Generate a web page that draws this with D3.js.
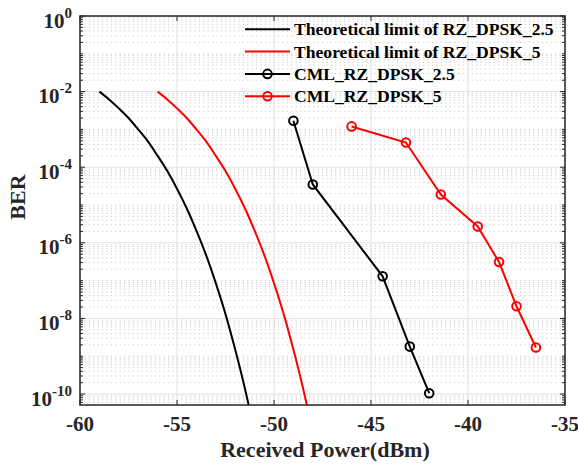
<!DOCTYPE html>
<html>
<head>
<meta charset="utf-8">
<script src="https://cdn.jsdelivr.net/npm/d3@7"></script>
<style>
  body { margin: 0; background: #fff; }
  text { font-family: "Liberation Serif", "Times New Roman", serif; font-weight: bold; fill: #262626; }
</style>
</head>
<body>
<div id="chart"></div>
<script>
// theoretical curves
const theoryPower25 = [-59, -58.5, -58, -57.5, -57, -56.5, -56, -55.5, -55, -54.5, -54, -53.5, -53, -52.5, -52, -51.5, -51.3];
const theoryBer25   = [1e-2, 6.2e-3, 3.6e-3, 2.0e-3, 1.0e-3, 4.8e-4, 2.0e-4, 7.9e-5, 2.7e-5, 8.2e-6, 2.1e-6, 4.7e-7, 8.6e-8, 1.3e-8, 1.5e-9, 1.4e-10, 5e-11];
const theoryPower5  = [-56, -55.5, -55, -54.5, -54, -53.5, -53, -52.5, -52, -51.5, -51, -50.5, -50, -49.5, -49, -48.5, -48.3];
const theoryBer5    = [1e-2, 6.2e-3, 3.6e-3, 2.0e-3, 1.0e-3, 4.8e-4, 2.0e-4, 7.9e-5, 2.7e-5, 8.2e-6, 2.1e-6, 4.7e-7, 8.6e-8, 1.3e-8, 1.5e-9, 1.4e-10, 5e-11];

// measured points
const cmlPower25 = [-49.0, -48.0, -44.4, -43.0, -42.0];
const cmlBer25   = [1.7e-3, 3.5e-5, 1.3e-7, 1.8e-9, 1.05e-10];
const cmlPower5  = [-46.0, -43.2, -41.4, -39.5, -38.4, -37.5, -36.5];
const cmlBer5    = [1.2e-3, 4.5e-4, 1.9e-5, 2.7e-6, 3.1e-7, 2.1e-8, 1.7e-9];

const xTicks = [-60, -55, -50, -45, -40, -35];
const yTickExp = [0, -2, -4, -6, -8, -10];

const legendLabels = ['Theoretical limit of RZ_DPSK_2.5', 'Theoretical limit of RZ_DPSK_5', 'CML_RZ_DPSK_2.5', 'CML_RZ_DPSK_5'];

const width = 578, height = 464;
const margin = { top: 16, right: 13, bottom: 59, left: 80 };

const svg = d3.select('#chart').append('svg')
  .attr('width', width)
  .attr('height', height);

const x = d3.scaleLinear().domain([-60, -35]).range([margin.left, width - margin.right]);
const y = d3.scaleLog().domain([Math.pow(10, -10.29), 1]).range([height - margin.bottom, margin.top]);

const x0 = x.range()[0], x1 = x.range()[1];
const y0 = y.range()[0], y1 = y.range()[1];

// minor y values: 2..9 x 10^k plus the odd decades
const minorY = [];
for (let e = -11; e <= 0; e++) {
  for (let m = 1; m <= 9; m++) {
    const v = m * Math.pow(10, e);
    if (m === 1 && yTickExp.includes(e)) continue;
    if (v >= y.domain()[0] && v <= 1) minorY.push(v);
  }
}

// grid
const grid = svg.append('g');
grid.selectAll('.minor')
  .data(minorY)
  .join('line')
    .attr('x1', x0).attr('x2', x1)
    .attr('y1', d => y(d)).attr('y2', d => y(d))
    .attr('stroke', '#cccccc')
    .attr('stroke-width', 1)
    .attr('stroke-dasharray', '1.2,3.2');
grid.selectAll('.majorY')
  .data(yTickExp)
  .join('line')
    .attr('x1', x0).attr('x2', x1)
    .attr('y1', d => y(Math.pow(10, d))).attr('y2', d => y(Math.pow(10, d)))
    .attr('stroke', '#e2e2e2');
grid.selectAll('.majorX')
  .data(xTicks)
  .join('line')
    .attr('x1', d => x(d)).attr('x2', d => x(d))
    .attr('y1', y0).attr('y2', y1)
    .attr('stroke', '#e2e2e2');

// clip
svg.append('clipPath').attr('id', 'clip')
  .append('rect').attr('x', x0).attr('y', y1).attr('width', x1 - x0).attr('height', y0 - y1);

const line = d3.line()
  .x(d => x(d[0]))
  .y(d => y(d[1]))
  .curve(d3.curveMonotoneX);
const straight = d3.line()
  .x(d => x(d[0]))
  .y(d => y(d[1]));

const plot = svg.append('g').attr('clip-path', 'url(#clip)');

plot.append('path')
  .datum(d3.zip(theoryPower25, theoryBer25))
  .attr('d', line)
  .attr('fill', 'none').attr('stroke', '#000').attr('stroke-width', 2);
plot.append('path')
  .datum(d3.zip(theoryPower5, theoryBer5))
  .attr('d', line)
  .attr('fill', 'none').attr('stroke', '#ff0000').attr('stroke-width', 2);

function cml(px, py, color) {
  const pts = d3.zip(px, py);
  plot.append('path')
    .datum(pts)
    .attr('d', straight)
    .attr('fill', 'none').attr('stroke', color).attr('stroke-width', 2);
  plot.append('g').selectAll('circle')
    .data(pts)
    .join('circle')
      .attr('cx', d => x(d[0]))
      .attr('cy', d => y(d[1]))
      .attr('r', 4.3)
      .attr('fill', 'none')
      .attr('stroke', color)
      .attr('stroke-width', 2);
}
cml(cmlPower25, cmlBer25, '#000');
cml(cmlPower5, cmlBer5, '#ff0000');

// axes box + ticks (inward)
const ax = svg.append('g').attr('stroke', '#262626').attr('fill', 'none');
ax.append('rect').attr('x', x0).attr('y', y1).attr('width', x1 - x0).attr('height', y0 - y1).attr('stroke-width', 1.5);

xTicks.forEach(t => {
  ax.append('line').attr('x1', x(t)).attr('x2', x(t)).attr('y1', y0).attr('y2', y0 - 5);
  ax.append('line').attr('x1', x(t)).attr('x2', x(t)).attr('y1', y1).attr('y2', y1 + 5);
});
yTickExp.forEach(e => {
  const yy = y(Math.pow(10, e));
  ax.append('line').attr('x1', x0).attr('x2', x0 + 5).attr('y1', yy).attr('y2', yy);
  ax.append('line').attr('x1', x1).attr('x2', x1 - 5).attr('y1', yy).attr('y2', yy);
});
minorY.forEach(v => {
  const yy = y(v);
  ax.append('line').attr('x1', x0).attr('x2', x0 + 3).attr('y1', yy).attr('y2', yy);
  ax.append('line').attr('x1', x1).attr('x2', x1 - 3).attr('y1', yy).attr('y2', yy);
});

// tick labels
svg.append('g').selectAll('text')
  .data(xTicks)
  .join('text')
    .attr('x', d => x(d))
    .attr('y', y0 + 26)
    .attr('text-anchor', 'middle')
    .style('font-size', '21px')
    .text(d => d);

const yl = svg.append('g').selectAll('text')
  .data(yTickExp)
  .join('text')
    .attr('x', 72)
    .attr('y', d => y(Math.pow(10, d)) + 11.5)
    .attr('text-anchor', 'end')
    .style('font-size', '21px');
yl.append('tspan').text('10');
yl.append('tspan').attr('dy', -10).style('font-size', '15px').text(d => d);

// axis titles
svg.append('text')
  .attr('x', 325).attr('y', 457)
  .attr('text-anchor', 'middle')
  .style('font-size', '22px')
  .text('Received Power(dBm)');
svg.append('text')
  .attr('transform', 'translate(25,197) rotate(-90)')
  .attr('text-anchor', 'middle')
  .style('font-size', '22px')
  .text('BER');

// legend
const legendColors = ['#000', '#ff0000', '#000', '#ff0000'];
const legendMarker = [false, false, true, true];
const lg = svg.append('g');
legendLabels.forEach((lab, i) => {
  const yy = 29.3 + i * 22.3;
  lg.append('line').attr('x1', 245).attr('x2', 290).attr('y1', yy).attr('y2', yy)
    .attr('stroke', legendColors[i]).attr('stroke-width', 2);
  if (legendMarker[i]) {
    lg.append('circle').attr('cx', 267.5).attr('cy', yy).attr('r', 4.3)
      .attr('fill', 'none').attr('stroke', legendColors[i]).attr('stroke-width', 2);
  }
  lg.append('text').attr('x', 294).attr('y', yy + 6)
    .style('font-size', '17.6px').style('fill', '#000')
    .text(lab);
});
</script>
</body>
</html>
